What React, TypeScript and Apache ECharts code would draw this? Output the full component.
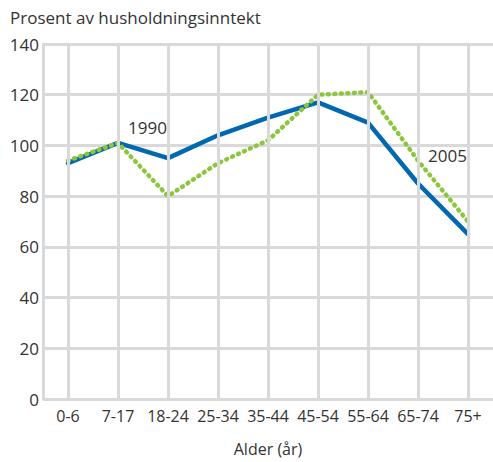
import React, { useEffect, useRef } from "react";
import * as echarts from "echarts";

const categories = ["0-6", "7-17", "18-24", "25-34", "35-44", "45-54", "55-64", "65-74", "75+"];
const series1990 = [93, 101, 95, 104, 111, 117, 109, 85, 65];
const series2005 = [94, 101, 80, 93, 102, 120, 121, 94, 70];
const yTicks = { min: 0, max: 140, interval: 20 };

const GRID = "#d9d9d9";
const TEXT = "#333333";
const FONT = "'Open Sans', 'Noto Sans', sans-serif";

export default function App() {
  const ref = useRef<HTMLDivElement>(null);
  useEffect(() => {
    if (!ref.current) return;
    document.body.style.margin = "0";
    const chart = echarts.init(ref.current, undefined, { renderer: "svg" });
    chart.setOption({
      animation: false,
      backgroundColor: "#ffffff",
      textStyle: { fontFamily: FONT },
      grid: { left: 43, top: 44, bottom: 58, right: -3, containLabel: false },
      xAxis: {
        type: "category",
        data: categories,
        boundaryGap: true,
        axisLine: { show: false },
        axisTick: { show: false },
        splitLine: { show: false },
        axisLabel: { color: TEXT, fontSize: 16, margin: 9, fontFamily: FONT, interval: 0 },
        name: "Alder (år)",
        nameLocation: "middle",
        nameGap: 42,
        nameTextStyle: { color: TEXT, fontSize: 16, fontFamily: FONT },
      },
      yAxis: {
        type: "value",
        min: yTicks.min,
        max: yTicks.max,
        interval: yTicks.interval,
        axisLine: { show: true, lineStyle: { color: GRID, width: 3 } },
        axisTick: { show: false },
        splitLine: { show: true, lineStyle: { color: GRID, width: 3 } },
        axisLabel: { color: TEXT, fontSize: 17, margin: 4, fontFamily: FONT },
      },
      graphic: [
        {
          type: "text",
          left: 10,
          top: 9,
          style: { text: "Prosent av husholdningsinntekt", fill: TEXT, fontSize: 17, fontFamily: FONT },
        },
        {
          type: "text",
          left: 128,
          top: 119,
          style: { text: "1990", fill: TEXT, fontSize: 17, fontFamily: FONT },
        },
        {
          type: "text",
          left: 428,
          top: 147,
          style: { text: "2005", fill: TEXT, fontSize: 17, fontFamily: FONT },
        },
      ],
      series: [
        {
          type: "line",
          name: "grid",
          data: categories.map(() => null),
          symbol: "none",
          silent: true,
          z: 1,
          lineStyle: { opacity: 0 },
          markLine: {
            silent: true,
            symbol: "none",
            label: { show: false },
            lineStyle: { color: GRID, width: 3, type: "solid" },
            data: categories.map((c) => ({ xAxis: c })),
          },
        },
        {
          type: "line",
          name: "1990",
          data: series1990,
          symbol: "none",
          z: 3,
          lineStyle: { color: "#0067b1", width: 4.5, cap: "round", join: "round" },
        },
        {
          type: "line",
          name: "2005",
          data: series2005,
          symbol: "none",
          z: 4,
          lineStyle: { color: "#8cc63f", width: 4.5, type: [1, 5.5], cap: "round", join: "round" },
        },
      ],
    });
    return () => chart.dispose();
  }, []);
  return <div ref={ref} style={{ position: "fixed", left: 0, top: 0, width: "100vw", height: "100vh" }} />;
}
